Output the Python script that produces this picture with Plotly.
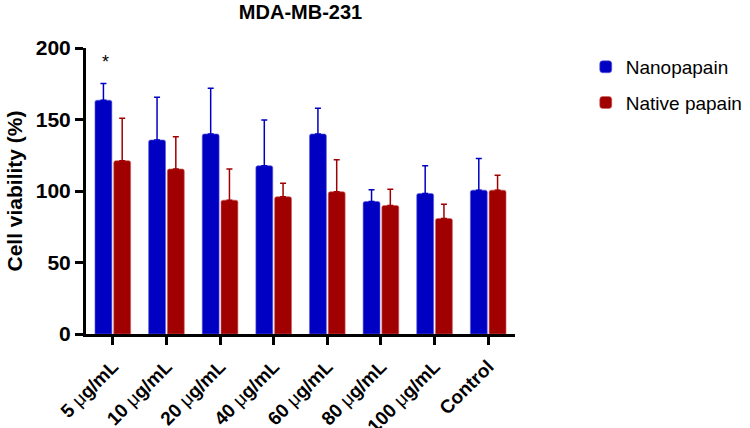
import plotly.graph_objects as go

categories = ["5 μg/mL", "10 μg/mL", "20 μg/mL", "40 μg/mL", "60 μg/mL", "80 μg/mL", "100 μg/mL", "Control"]
tick_labels = [
    "<b>5 </b>μ<b>g/mL</b>",
    "<b>10 </b>μ<b>g/mL</b>",
    "<b>20 </b>μ<b>g/mL</b>",
    "<b>40 </b>μ<b>g/mL</b>",
    "<b>60 </b>μ<b>g/mL</b>",
    "<b>80 </b>μ<b>g/mL</b>",
    "<b>100 </b>μ<b>g/mL</b>",
    "<b>Control</b>",
]

nano_vals = [163.5, 135.7, 139.9, 117.7, 139.9, 92.7, 98.3, 100.6]
nano_err = [11.7, 29.9, 32.0, 32.0, 18.0, 8.2, 19.4, 22.2]
native_vals = [121.2, 115.4, 93.6, 96.0, 99.5, 89.9, 80.8, 100.6]
native_err = [29.7, 22.6, 21.8, 9.5, 22.4, 11.4, 10.0, 10.5]

BLUE = "#0000C2"
RED = "#A00000"

fig = go.Figure()
fig.add_trace(go.Bar(
    x=categories, y=nano_vals, name="Nanopapain", legendgroup="nano",
    marker=dict(color=BLUE, cornerradius=2, line=dict(color="#6060E0", width=0.6)),
    error_y=dict(type="data", array=nano_err, arrayminus=[0] * len(nano_err),
                 symmetric=False, color=BLUE, thickness=1.5, width=3),
))
fig.add_trace(go.Bar(
    x=categories, y=native_vals, name="Native papain", legendgroup="native",
    marker=dict(color=RED, cornerradius=2, line=dict(color="#D06060", width=0.6)),
    error_y=dict(type="data", array=native_err, arrayminus=[0] * len(native_err),
                 symmetric=False, color=RED, thickness=1.5, width=3),
))

# significance mark over the first blue bar
fig.add_annotation(x=categories[0], y=190, text="*", showarrow=False, xshift=-7,
                   font=dict(size=18, color="black"))

fig.update_layout(
    width=750, height=428,
    margin=dict(l=86, r=235, t=48, b=94),
    paper_bgcolor="white", plot_bgcolor="white",
    font=dict(family="Liberation Sans, Arial, sans-serif", color="black"),
    barmode="group", bargap=0.3, bargroupgap=0.1,
    title=dict(text="<b>MDA-MB-231</b>", x=0.5, xref="paper", y=0.972, yanchor="middle",
               font=dict(size=20)),
    legend=dict(xref="container", yref="container", x=0.781, y=0.888,
                xanchor="left", yanchor="top",
                font=dict(size=19), tracegroupgap=8, itemwidth=30),
)
fig.update_xaxes(
    range=[-0.5, 7.5], tickmode="array", tickvals=categories, ticktext=tick_labels,
    tickangle=-45, tickfont=dict(size=19), automargin=False, ticklabelstandoff=3,
    showline=True, linecolor="black", linewidth=3,
    ticks="outside", ticklen=8, tickwidth=3, tickcolor="black",
)
fig.update_yaxes(
    range=[0, 200], tickvals=[0, 50, 100, 150, 200], automargin=False,
    tickfont=dict(size=21, weight="bold"),
    title=dict(text="<b>Cell viability (%)</b>", font=dict(size=21), standoff=8),
    showline=True, linecolor="black", linewidth=3, showgrid=False, zeroline=False,
    ticks="outside", ticklen=8, tickwidth=3, tickcolor="black",
)

# page body has a default 8px margin; drop it so the figure sits at the window corner
fig.write_html("out.html", config={"displayModeBar": False},
               post_script="document.body.style.margin='0';")
